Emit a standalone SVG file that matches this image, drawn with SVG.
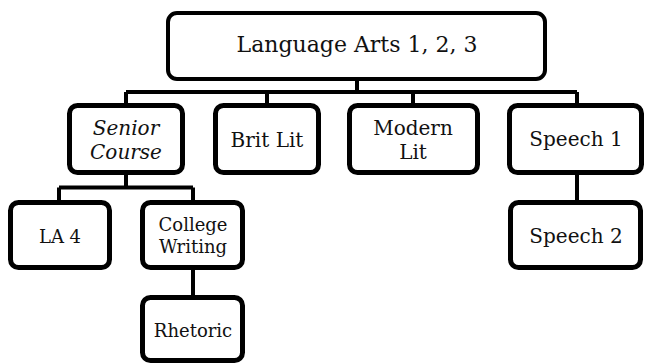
<svg xmlns="http://www.w3.org/2000/svg" width="650" height="364" viewBox="0 0 650 364">
<style>
.box{fill:#fff;stroke:#000;stroke-width:5}
.top{fill:#fff;stroke:#000;stroke-width:4}
.conn{fill:none;stroke:#000;stroke-width:4}
.t{font-family:"DejaVu Serif","Liberation Serif",serif;fill:#111;text-anchor:middle}
.l1{font-size:22px}
.l2{font-size:20px}
.l3{font-size:18px}
.it{font-style:italic}
</style>
<rect width="650" height="364" fill="#fff"/>
<g id="connectors">
<path class="conn" d="M357 79V92M126 92H577M126 92V104M267 92V104M413 92V104M577 92V104"/>
<path class="conn" d="M126 174V187.5M59 187.5H193M59 187.5V201M193 187.5V201"/>
<path class="conn" d="M193 269V296"/>
<path class="conn" d="M577 174V201"/>
</g>
<g id="n-language-arts">
<rect class="top" x="168" y="13" width="377" height="66" rx="9"/>
<text class="t l1" x="357" y="52">Language Arts 1, 2, 3</text>
</g>
<g id="n-senior-course">
<rect class="box" x="69.5" y="105.5" width="113" height="67" rx="8"/>
<text class="t l2 it" x="126" y="135">Senior</text>
<text class="t l2 it" x="126" y="159">Course</text>
</g>
<g id="n-brit-lit">
<rect class="box" x="215.5" y="105.5" width="103" height="67" rx="8"/>
<text class="t l2" x="267" y="147">Brit Lit</text>
</g>
<g id="n-modern-lit">
<rect class="box" x="349.5" y="105.5" width="128" height="67" rx="8"/>
<text class="t l2" x="413" y="135">Modern</text>
<text class="t l2" x="413" y="159">Lit</text>
</g>
<g id="n-speech-1">
<rect class="box" x="509.5" y="105.5" width="132" height="67" rx="8"/>
<text class="t l2" x="576" y="146">Speech 1</text>
</g>
<g id="n-la-4">
<rect class="box" x="10.5" y="202.5" width="99" height="65" rx="8"/>
<text class="t l3" x="60" y="243">LA 4</text>
</g>
<g id="n-college-writing">
<rect class="box" x="142.5" y="202.5" width="100" height="65" rx="8"/>
<text class="t l3" x="193" y="231">College</text>
<text class="t l3" x="193" y="253">Writing</text>
</g>
<g id="n-rhetoric">
<rect class="box" x="142.5" y="297.5" width="100" height="63" rx="8"/>
<text class="t l3" x="193" y="337">Rhetoric</text>
</g>
<g id="n-speech-2">
<rect class="box" x="510.5" y="202.5" width="130" height="65" rx="8"/>
<text class="t l2" x="576" y="243">Speech 2</text>
</g>
</svg>
